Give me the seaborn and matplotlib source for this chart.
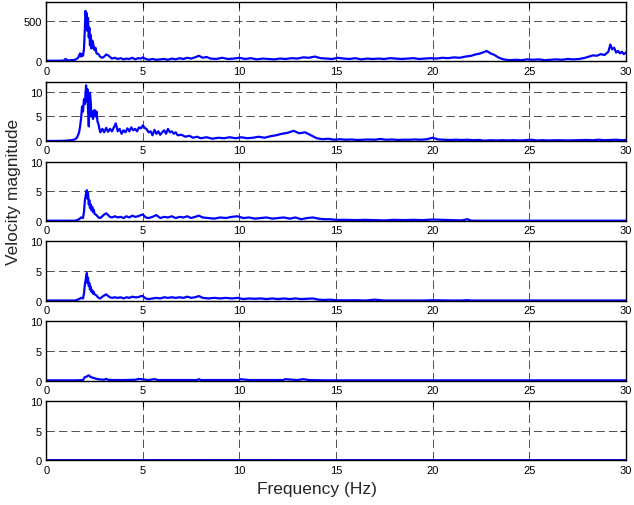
import numpy as np
import matplotlib
matplotlib.use("Agg")
import matplotlib.pyplot as plt
import seaborn as sns

# spectra, one panel each
f1 = [0.0, 0.5, 0.9, 1.0, 1.1, 1.3, 1.5, 1.65, 1.75, 1.8,
      1.85, 1.9, 1.95, 2.0, 2.03, 2.06, 2.1, 2.13, 2.16, 2.2,
      2.23, 2.26, 2.3, 2.34, 2.38, 2.42, 2.46, 2.5, 2.55, 2.6,
      2.7, 2.8, 2.9, 3.0, 3.1, 3.2, 3.3, 3.4, 3.55, 3.7,
      3.85, 4.0, 4.15, 4.3, 4.45, 4.6, 4.75, 4.9, 5.0, 5.15,
      5.3, 5.5, 5.7, 5.9, 6.1, 6.3, 6.5, 6.7, 6.9, 7.1,
      7.3, 7.5, 7.7, 7.9, 8.1, 8.3, 8.5, 8.8, 9.1, 9.4,
      9.7, 10.0, 10.3, 10.6, 10.9, 11.2, 11.5, 11.8, 12.1, 12.4,
      12.7, 13.0, 13.3, 13.6, 13.9, 14.2, 14.5, 14.8, 15.1, 15.4,
      15.7, 16.0, 16.3, 16.6, 16.9, 17.2, 17.5, 17.8, 18.1, 18.4,
      18.7, 19.0, 19.3, 19.6, 19.9, 20.2, 20.5, 20.8, 21.1, 21.4,
      21.7, 22.0, 22.2, 22.4, 22.6, 22.8, 23.0, 23.2, 23.4, 23.6,
      23.8, 24.0, 24.3, 24.6, 24.9, 25.2, 25.5, 25.8, 26.1, 26.4,
      26.7, 27.0, 27.3, 27.6, 27.9, 28.1, 28.3, 28.5, 28.7, 28.9,
      29.1, 29.2, 29.3, 29.4, 29.5, 29.6, 29.7, 29.8, 29.9, 30.0]
v1 = [8, 8, 10, 30, 12, 15, 20, 45, 100, 60,
      90, 70, 150, 420, 630, 560, 600, 380, 540, 300,
      420, 200, 330, 160, 260, 230, 180, 140, 170, 100,
      90, 55, 45, 60, 85, 75, 55, 35, 45, 30,
      40, 25, 35, 30, 45, 25, 40, 35, 50, 30,
      20, 30, 20, 25, 30, 20, 35, 25, 40, 30,
      45, 35, 50, 70, 45, 55, 35, 30, 45, 30,
      35, 45, 30, 40, 25, 35, 30, 25, 35, 30,
      40, 35, 50, 45, 60, 40, 35, 30, 45, 35,
      30, 40, 25, 35, 30, 35, 30, 40, 35, 30,
      35, 40, 30, 35, 40, 35, 45, 40, 50, 45,
      60, 70, 85, 95, 110, 130, 100, 80, 50, 30,
      20, 15, 20, 15, 25, 20, 25, 15, 20, 25,
      20, 30, 25, 30, 45, 60, 75, 70, 90, 80,
      120, 210, 150, 170, 110, 130, 100, 120, 90, 110]

f2 = [0.0, 0.5, 1.0, 1.3, 1.5, 1.6, 1.7, 1.75, 1.8, 1.85,
      1.9, 1.95, 2.0, 2.03, 2.06, 2.1, 2.13, 2.16, 2.2, 2.23,
      2.26, 2.3, 2.34, 2.38, 2.42, 2.46, 2.5, 2.55, 2.6, 2.65,
      2.7, 2.75, 2.8, 2.9, 3.0, 3.1, 3.2, 3.3, 3.4, 3.5,
      3.6, 3.7, 3.8, 3.9, 4.0, 4.1, 4.2, 4.3, 4.4, 4.5,
      4.6, 4.7, 4.8, 4.9, 5.0, 5.1, 5.2, 5.3, 5.4, 5.5,
      5.6, 5.7, 5.8, 5.9, 6.0, 6.1, 6.2, 6.3, 6.4, 6.5,
      6.6, 6.7, 6.8, 7.0, 7.2, 7.4, 7.6, 7.8, 8.0, 8.3,
      8.6, 8.9, 9.2, 9.5, 9.8, 10.1, 10.4, 10.7, 11.0, 11.3,
      11.6, 11.9, 12.2, 12.5, 12.8, 13.1, 13.4, 13.7, 14.0, 14.3,
      14.6, 14.9, 15.2, 15.5, 15.8, 16.1, 16.4, 16.7, 17.0, 17.3,
      17.6, 17.9, 18.2, 18.5, 18.8, 19.1, 19.4, 19.7, 20.0, 20.3,
      20.6, 20.9, 21.2, 21.5, 21.8, 22.1, 22.4, 22.7, 23.0, 23.3,
      23.6, 23.9, 24.2, 24.5, 24.8, 25.1, 25.4, 25.7, 26.0, 26.5,
      27.0, 27.5, 28.0, 28.3, 28.6, 28.9, 29.2, 29.5, 29.8, 30.0]
v2 = [0.05, 0.05, 0.1, 0.2, 0.4, 0.8, 1.8, 3.0, 4.5, 7.0,
      6.0, 8.5, 7.5, 9.5, 11.3, 8.0, 10.5, 6.5, 3.0, 7.0,
      9.8, 8.0, 5.0, 6.0, 4.5, 5.5, 6.3, 5.0, 6.0, 4.0,
      3.5, 2.5, 1.8, 2.5, 1.8, 2.7, 1.9, 2.5, 2.0, 2.8,
      3.6, 2.0, 2.5, 1.5, 2.2, 1.8, 2.6, 2.0, 2.8, 2.2,
      2.5, 2.0, 2.8, 2.6, 3.2, 2.7, 2.4, 1.8, 2.0, 1.2,
      2.3, 1.5, 2.0, 1.3, 1.8, 2.2, 1.5, 2.5, 1.8, 2.0,
      1.5, 1.8, 1.2, 1.3, 0.9, 1.1, 0.7, 0.9, 0.6, 0.8,
      0.5, 0.7, 0.6, 0.8, 0.6, 0.8, 0.6, 0.7, 0.9, 0.7,
      1.0, 1.2, 1.5, 1.7, 2.1, 1.6, 1.8, 1.2, 0.6, 0.4,
      0.5, 0.3, 0.4, 0.3, 0.35, 0.25, 0.3, 0.35, 0.3, 0.45,
      0.3, 0.35, 0.25, 0.3, 0.3, 0.35, 0.3, 0.4, 0.7, 0.35,
      0.3, 0.25, 0.3, 0.25, 0.3, 0.2, 0.25, 0.1, 0.2, 0.15,
      0.2, 0.15, 0.2, 0.15, 0.2, 0.3, 0.15, 0.2, 0.15, 0.2,
      0.15, 0.2, 0.25, 0.2, 0.3, 0.2, 0.25, 0.3, 0.2, 0.25]

f34 = [0.0, 0.8, 1.5, 1.7, 1.8, 1.9, 1.95, 2.0, 2.05, 2.1,
       2.13, 2.16, 2.2, 2.23, 2.26, 2.3, 2.34, 2.38, 2.42, 2.46,
       2.5, 2.6, 2.7, 2.8, 2.9, 3.0, 3.1, 3.2, 3.3, 3.4,
       3.55, 3.7, 3.85, 4.0, 4.15, 4.3, 4.45, 4.6, 4.75, 4.9,
       5.0, 5.15, 5.3, 5.5, 5.7, 5.9, 6.1, 6.3, 6.5, 6.7,
       6.9, 7.1, 7.3, 7.5, 7.7, 7.9, 8.1, 8.4, 8.7, 9.0,
       9.3, 9.6, 9.9, 10.2, 10.5, 10.8, 11.1, 11.4, 11.7, 12.0,
       12.3, 12.6, 12.9, 13.2, 13.5, 13.8, 14.1, 14.4, 14.7, 15.0,
       15.5, 16.0, 16.5, 17.0, 17.5, 18.0, 18.5, 19.0, 19.5, 20.0,
       20.5, 21.0, 21.5, 21.8, 22.0, 23.0, 25.0, 27.0, 28.5, 30.0]
v3 = [0.05, 0.05, 0.05, 0.3, 0.6, 0.5, 1.5, 3.5, 4.5, 5.2,
      3.8, 4.8, 2.8, 3.5, 2.2, 2.8, 1.8, 2.4, 1.5, 1.9,
      1.2, 1.0, 0.6, 0.5, 0.8, 1.1, 1.3, 1.0, 0.7, 0.6,
      0.8, 0.6, 0.7, 0.5, 0.8, 0.6, 0.9, 0.7, 0.8, 1.0,
      1.1, 0.6, 0.5, 0.7, 1.0, 0.5, 0.7, 0.6, 0.8, 0.5,
      0.7, 0.6, 0.8, 0.5, 0.7, 0.9, 0.6, 0.5, 0.4, 0.6,
      0.5, 0.7, 0.8, 0.5, 0.6, 0.4, 0.5, 0.6, 0.4, 0.5,
      0.6, 0.4, 0.6, 0.3, 0.5, 0.6, 0.4, 0.3, 0.3, 0.2,
      0.2, 0.15, 0.2, 0.15, 0.1, 0.2, 0.15, 0.2, 0.15, 0.25,
      0.2, 0.15, 0.1, 0.3, 0.05, 0.05, 0.05, 0.05, 0.05, 0.05]
v4 = [0.05, 0.05, 0.05, 0.3, 0.5, 0.4, 1.2, 2.8, 3.8, 4.7,
      3.0, 3.9, 2.5, 3.0, 1.9, 2.4, 1.5, 1.8, 1.2, 1.5,
      1.1, 0.9, 0.5, 0.4, 0.7, 0.9, 1.1, 0.8, 0.6, 0.5,
      0.6, 0.5, 0.6, 0.4, 0.6, 0.5, 0.7, 0.6, 0.6, 0.8,
      0.8, 0.4, 0.3, 0.4, 0.5, 0.4, 0.6, 0.5, 0.6, 0.5,
      0.6, 0.5, 0.7, 0.5, 0.6, 0.8, 0.5, 0.4, 0.5, 0.4,
      0.5, 0.4, 0.5, 0.3, 0.4, 0.35, 0.4, 0.3, 0.4, 0.3,
      0.4, 0.3, 0.4, 0.3, 0.35, 0.4, 0.2, 0.15, 0.2, 0.1,
      0.08, 0.1, 0.05, 0.2, 0.05, 0.05, 0.05, 0.05, 0.05, 0.1,
      0.08, 0.05, 0.05, 0.12, 0.05, 0.05, 0.05, 0.05, 0.05, 0.05]

f5 = [0.0, 1.5, 1.9, 2.0, 2.1, 2.2, 2.3, 2.4, 2.5, 2.6,
      2.8, 3.0, 3.1, 3.2, 3.5, 4.0, 4.6, 4.8, 5.0, 5.3,
      5.6, 5.8, 6.5, 7.8, 7.9, 8.0, 10.0, 10.05, 10.5, 12.3,
      12.35, 13.0, 13.3, 13.6, 14.5, 20.0, 30.0]
v5 = [0.05, 0.05, 0.1, 0.6, 0.7, 0.9, 0.6, 0.5, 0.4, 0.3,
      0.2, 0.15, 0.3, 0.15, 0.1, 0.1, 0.15, 0.3, 0.2, 0.1,
      0.25, 0.1, 0.1, 0.1, 0.25, 0.1, 0.1, 0.25, 0.1, 0.1,
      0.25, 0.1, 0.25, 0.1, 0.05, 0.05, 0.05]

f6 = [0, 5, 10, 15, 20, 25, 30]
v6 = [0.05, 0.05, 0.06, 0.05, 0.05, 0.05, 0.05]

series = [(f1, v1), (f2, v2), (f34, v3), (f34, v4), (f5, v5), (f6, v6)]
ylims = [740, 12, 10, 10, 10, 10]
yticks = [[0, 500], [0, 5, 10], [0, 5, 10], [0, 5, 10], [0, 5, 10], [0, 5, 10]]
xticks = [0, 5, 10, 15, 20, 25, 30]

sns.set_style("white")
plt.rcParams['font.family'] = ['Liberation Sans', 'DejaVu Sans']

fig, axes = plt.subplots(6, 1, figsize=(6.34, 5.06), dpi=100)
fig.subplots_adjust(left=0.073, right=0.987, top=0.994, bottom=0.088, hspace=0.345)

for ax, (f, v), ym, yt in zip(axes, series, ylims, yticks):
    sns.lineplot(x=f, y=v, ax=ax, color='#0000ff', linewidth=1.6)
    ax.set_xlim(0, 30)
    ax.set_ylim(0, ym)
    ax.set_xticks(xticks)
    ax.set_yticks(yt)
    ax.tick_params(direction='in', length=4, width=0.8, labelsize=8,
                   top=True, right=True, pad=3, colors='black')
    ax.grid(True, color='0.2', linestyle=(0, (10, 5)), linewidth=0.6)
    for s in ax.spines.values():
        s.set_color('black')
        s.set_linewidth(1.0)
    ax.set_xlabel('')
    ax.set_ylabel('')

fig.text(0.5, 0.018, 'Frequency (Hz)', ha='center', va='bottom', fontsize=12.5)
fig.text(0.010, 0.62, 'Velocity magnitude', rotation=90, ha='left', va='center', fontsize=12.5)

fig.savefig('out.png', dpi=100)
